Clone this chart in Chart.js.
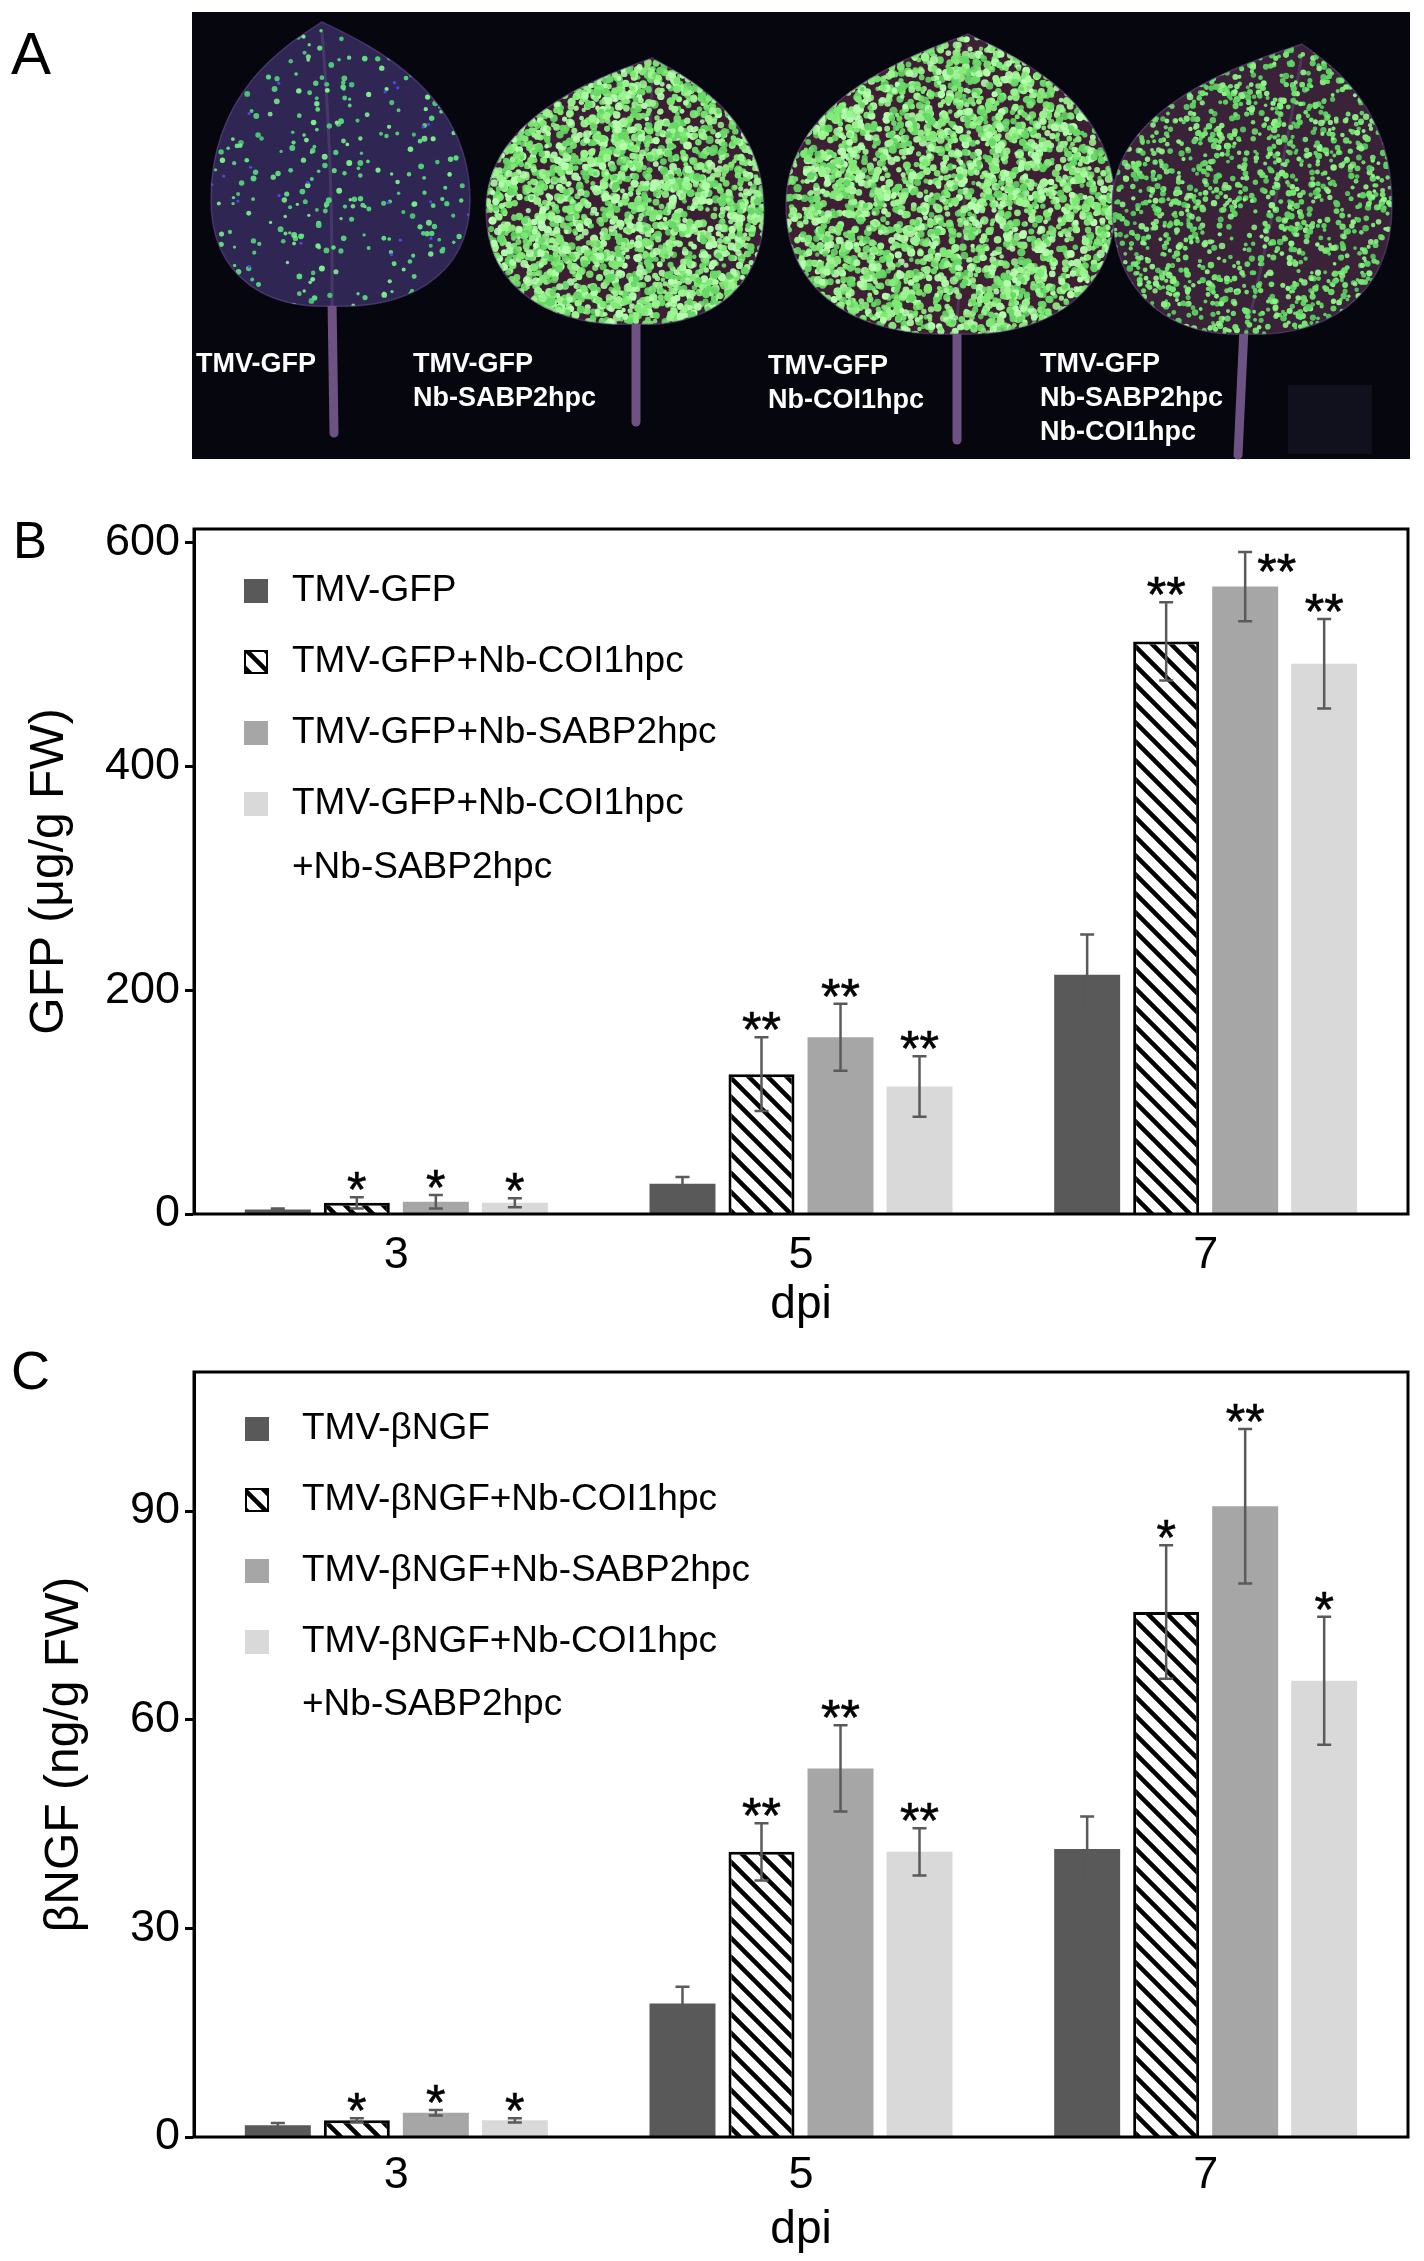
<!DOCTYPE html>
<html><head><meta charset="utf-8">
<script src="https://cdn.jsdelivr.net/npm/chart.js@4.4.1/dist/chart.umd.min.js"></script>
<style>
html,body{margin:0;padding:0;background:#fff;}
body{width:1424px;height:2261px;position:relative;overflow:hidden;font-family:"Liberation Sans",Arial,sans-serif;}
.abs{position:absolute;}
.panel{position:absolute;line-height:1;color:#000;font-family:"Liberation Sans",Arial,sans-serif;}
.plabel{position:absolute;color:#fff;font-weight:bold;font-size:27px;line-height:34px;white-space:nowrap;font-family:"Liberation Sans",Arial,sans-serif;}
</style></head><body>
<canvas id="photo" class="abs" width="1424" height="470" style="left:0;top:0;width:1424px;height:470px"></canvas>
<div class="plabel" style="left:196px;top:346px">TMV-GFP</div>
<div class="plabel" style="left:413px;top:346px">TMV-GFP<br>Nb-SABP2hpc</div>
<div class="plabel" style="left:768px;top:348px">TMV-GFP<br>Nb-COI1hpc</div>
<div class="plabel" style="left:1040px;top:346px">TMV-GFP<br>Nb-SABP2hpc<br>Nb-COI1hpc</div>
<div class="panel" style="left:11px;top:24px;font-size:60px">A</div>
<div id="wB" class="abs" style="left:0;top:480px;width:1424px;height:860px"><canvas id="chartB"></canvas></div>
<div id="wC" class="abs" style="left:0;top:1340px;width:1424px;height:921px"><canvas id="chartC"></canvas></div>
<div class="panel" style="left:13px;top:515px;font-size:51px">B</div>
<div class="panel" style="left:11px;top:1343px;font-size:54px">C</div>
<script>
// ---------------- DATA ----------------
const categories = ['3', '5', '7'];
const xTitle = 'dpi';

// Panel B: GFP (µg/g FW)
const gfpTitle = 'GFP (μg/g FW)';
const gfpTicks = [0, 200, 400, 600];
const gfpLegend = ['TMV-GFP', 'TMV-GFP+Nb-COI1hpc', 'TMV-GFP+Nb-SABP2hpc', ['TMV-GFP+Nb-COI1hpc', '+Nb-SABP2hpc']];
const gfpTMV      = [4, 27, 214];
const gfpTMVErr   = [1, 6, 36];
const gfpCOI      = [10, 125, 512];
const gfpCOIErr   = [5, 33, 35];
const gfpSABP     = [11, 158, 561];
const gfpSABPErr  = [6, 30, 31];
const gfpBoth     = [10, 114, 492];
const gfpBothErr  = [4, 27, 40];
const gfpSigTMV   = ['', '', ''];
const gfpSigCOI   = ['*', '**', '**'];
const gfpSigSABP  = ['*', '**', '**'];
const gfpSigBoth  = ['*', '**', '**'];

// Panel C: βNGF (ng/g FW)
const ngfTitle = 'βNGF (ng/g FW)';
const ngfTicks = [0, 30, 60, 90];
const ngfLegend = ['TMV-βNGF', 'TMV-βNGF+Nb-COI1hpc', 'TMV-βNGF+Nb-SABP2hpc', ['TMV-βNGF+Nb-COI1hpc', '+Nb-SABP2hpc']];
const ngfTMV      = [1.7, 19.2, 41.4];
const ngfTMVErr   = [0.3, 2.4, 4.7];
const ngfCOI      = [2.4, 41.0, 75.5];
const ngfCOIErr   = [0.3, 4.1, 9.6];
const ngfSABP     = [3.5, 53.0, 90.7];
const ngfSABPErr  = [0.4, 6.2, 11.1];
const ngfBoth     = [2.4, 41.0, 65.6];
const ngfBothErr  = [0.3, 3.4, 9.2];
const ngfSigTMV   = ['', '', ''];
const ngfSigCOI   = ['*', '**', '*'];
const ngfSigSABP  = ['*', '**', '**'];
const ngfSigBoth  = ['*', '**', '*'];

// ---------------- STYLE ----------------
const FONT = '"Liberation Sans", Arial, sans-serif';
const cDark = '#595959', cMid = '#a6a6a6', cLight = '#d9d9d9';

function makeHatch() {
  const s = 19, c = document.createElement('canvas');
  c.width = s; c.height = s;
  const g = c.getContext('2d');
  g.fillStyle = '#fff'; g.fillRect(0, 0, s, s);
  g.strokeStyle = '#000'; g.lineWidth = 4.5;
  g.beginPath();
  for (const k of [-1, 0, 1]) { g.moveTo(k * s - 3, -3); g.lineTo(k * s + s + 3, s + 3); }
  g.stroke();
  return g.createPattern(c, 'repeat');
}
const hatch = makeHatch();

const overlay = {
  id: 'overlay',
  afterDatasetsDraw(chart, args, o) {
    const ctx = chart.ctx, ys = chart.scales.y, ca = chart.chartArea;
    // error bars + significance marks
    chart.data.datasets.forEach((ds, di) => {
      const meta = chart.getDatasetMeta(di);
      meta.data.forEach((bar, i) => {
        const v = ds.data[i], e = ds.errors[i], x = bar.x;
        const yT = ys.getPixelForValue(v + e), yB = ys.getPixelForValue(Math.max(0, v - e));
        ctx.save();
        ctx.strokeStyle = '#5a5a5a'; ctx.lineWidth = 2.5;
        ctx.beginPath();
        ctx.moveTo(x, yT); ctx.lineTo(x, yB);
        ctx.moveTo(x - 7, yT); ctx.lineTo(x + 7, yT);
        ctx.moveTo(x - 7, yB); ctx.lineTo(x + 7, yB);
        ctx.stroke();
        const s = ds.sig[i];
        if (s) {
          ctx.font = '50px ' + FONT; ctx.fillStyle = '#000'; ctx.strokeStyle = '#000'; ctx.lineWidth = 0.6;
          ctx.textBaseline = 'alphabetic';
          let bx = x, by = yT + 10; ctx.textAlign = 'center';
          if (yT - 26 < ca.top + 4) { bx = x + 12; by = yT + 37; ctx.textAlign = 'left'; }
          ctx.fillText(s, bx, by); ctx.strokeText(s, bx, by);
        }
        ctx.restore();
      });
    });
    // frame
    ctx.save();
    ctx.strokeStyle = '#000'; ctx.lineWidth = 3;
    ctx.strokeRect(ca.left, ca.top, ca.right - ca.left, ca.bottom - ca.top);
    ctx.restore();
    // legend
    const L = o.legend;
    ctx.save();
    ctx.font = '37px ' + FONT; ctx.fillStyle = '#000'; ctx.textBaseline = 'middle'; ctx.textAlign = 'left';
    chart.data.datasets.forEach((ds, di) => {
      const cy = ca.top + L.first + di * L.step;
      ctx.fillStyle = ds.backgroundColor;
      ctx.fillRect(L.sx, cy - 12, 24, 24);
      if (ds.borderWidth) { ctx.strokeStyle = '#000'; ctx.lineWidth = 2; ctx.strokeRect(L.sx + 1, cy - 11, 22, 22); }
      ctx.fillStyle = '#000';
      [].concat(ds.legendText).forEach((t, k) => ctx.fillText(t, L.tx, cy + k * L.wrap));
    });
    ctx.restore();
  }
};

function ds(label, data, err, sig, color, hatched) {
  return {
    label: Array.isArray(label) ? label.join(' ') : label, legendText: label,
    data: data, errors: err, sig: sig,
    backgroundColor: color,
    borderColor: '#000', borderWidth: hatched ? 3 : 0,
    categoryPercentage: 0.781, barPercentage: 0.835
  };
}

function makeChart(id, datasets, ticks, yMax, yTitle, pad, xAxisH, tickPad, titlePadX, titlePadY, legend) {
  return new Chart(document.getElementById(id), {
    type: 'bar',
    data: { labels: categories, datasets: datasets },
    options: {
      responsive: true, maintainAspectRatio: false, animation: false,
      layout: { padding: pad },
      plugins: { legend: { display: false }, tooltip: { enabled: false }, overlay: { legend: legend } },
      scales: {
        x: {
          grid: { display: false, drawTicks: false }, border: { display: false },
          ticks: { color: '#000', font: { family: FONT, size: 45 }, padding: tickPad },
          title: { display: true, text: xTitle, color: '#000', font: { family: FONT, size: 46 }, padding: { top: 0, bottom: titlePadX } },
          afterFit(s) { s.height = xAxisH; }
        },
        y: {
          min: 0, max: yMax,
          afterBuildTicks(s) { s.ticks = ticks.map(v => ({ value: v })); },
          grid: { display: true, drawOnChartArea: false, drawTicks: true, tickLength: 9, tickWidth: 3, tickColor: '#000' },
          border: { display: true, color: '#000', width: 3 },
          ticks: { color: '#000', font: { family: FONT, size: 45 }, padding: 5 },
          title: { display: true, text: yTitle, color: '#000', font: { family: FONT, size: 48 }, padding: { top: titlePadY, bottom: 0 } },
          afterFit(s) { s.width = 194; }
        }
      }
    },
    plugins: [overlay]
  });
}

makeChart('chartB', [
  ds(gfpLegend[0], gfpTMV, gfpTMVErr, gfpSigTMV, cDark, false),
  ds(gfpLegend[1], gfpCOI, gfpCOIErr, gfpSigCOI, hatch, true),
  ds(gfpLegend[2], gfpSABP, gfpSABPErr, gfpSigSABP, cMid, false),
  ds(gfpLegend[3], gfpBoth, gfpBothErr, gfpSigBoth, cLight, false)
], gfpTicks, 612.5, gfpTitle, { top: 49, right: 16, bottom: 0, left: 0 }, 126, 15, 7, 21,
  { first: 62, step: 71, wrap: 64, sx: 244, tx: 292 });

makeChart('chartC', [
  ds(ngfLegend[0], ngfTMV, ngfTMVErr, ngfSigTMV, cDark, false),
  ds(ngfLegend[1], ngfCOI, ngfCOIErr, ngfSigCOI, hatch, true),
  ds(ngfLegend[2], ngfSABP, ngfSABPErr, ngfSigSABP, cMid, false),
  ds(ngfLegend[3], ngfBoth, ngfBothErr, ngfSigBoth, cLight, false)
], ngfTicks, 110, ngfTitle, { top: 16, right: 16, bottom: 0, left: 0 }, 124, 12, 3, 36,
  { first: 57, step: 71, wrap: 63, sx: 245, tx: 302 });

// ---------------- PHOTO (panel A, drawn illustration) ----------------
(function drawPhoto() {
  const g = document.getElementById('photo').getContext('2d');
  let seed = 20240607;
  function speckle() { seed = (seed + 0x6D2B79F5) | 0; let t = Math.imul(seed ^ (seed >>> 15), 1 | seed); t = (t + Math.imul(t ^ (t >>> 7), 61 | t)) ^ t; return ((t ^ (t >>> 14)) >>> 0) / 4294967296; }
  g.fillStyle = '#06060f'; g.fillRect(192, 12, 1218, 447);
  g.fillStyle = '#11111e'; g.fillRect(1288, 385, 84, 69);
  const leaves = [
    { tip: [322, 22], base: [332, 306], left: 211, right: 470, wy: 200, pet: [[332, 300], [334, 433]], col: '#2f2653', n: 330, r: [1.6, 3.0], greens: ['#5ee07e', '#7cf08c', '#4fd07a'], density: 'sparse' },
    { tip: [652, 58], base: [636, 324], left: 486, right: 764, wy: 210, pet: [[636, 318], [636, 422]], col: '#3c1f34', n: 2900, r: [2.2, 4.2], greens: ['#7eea74', '#9cf590', '#66d866', '#b5ffae'] },
    { tip: [968, 34], base: [956, 334], left: 786, right: 1115, wy: 205, pet: [[957, 328], [957, 440]], col: '#3e1f33', n: 3500, r: [2.2, 4.2], greens: ['#7eea74', '#9cf590', '#66d866', '#b5ffae'] },
    { tip: [1302, 44], base: [1246, 334], left: 1112, right: 1392, wy: 205, pet: [[1244, 328], [1238, 455]], col: '#3a2238', n: 1600, r: [1.8, 3.3], greens: ['#72e870', '#90f388', '#5cd462'] }
  ];
  function leafPath(L) {
    const [tx, ty] = L.tip, [bx, by] = L.base, l = L.left, r = L.right, wy = L.wy;
    g.beginPath();
    g.moveTo(tx, ty);
    g.bezierCurveTo(tx + (r - tx) * 0.3, ty + (wy - ty) * 0.12, r, wy - (wy - ty) * 0.62, r, wy);
    g.bezierCurveTo(r, wy + (by - wy) * 0.75, bx + (r - bx) * 0.5, by + 4, bx, by);
    g.bezierCurveTo(bx - (bx - l) * 0.5, by + 4, l, wy + (by - wy) * 0.75, l, wy);
    g.bezierCurveTo(l, wy - (wy - ty) * 0.62, tx - (tx - l) * 0.3, ty + (wy - ty) * 0.12, tx, ty);
    g.closePath();
  }
  leaves.forEach(L => {
    g.save();
    g.strokeStyle = '#6e5283'; g.lineWidth = 9; g.lineCap = 'round';
    g.beginPath(); g.moveTo(L.pet[0][0], L.pet[0][1]); g.lineTo(L.pet[1][0], L.pet[1][1]); g.stroke();
    g.restore();
    g.save();
    leafPath(L);
    g.fillStyle = L.col; g.fill();
    g.clip();
    g.strokeStyle = 'rgba(120,90,150,0.35)'; g.lineWidth = 3;
    g.beginPath(); g.moveTo(L.tip[0], L.tip[1] + 10); g.quadraticCurveTo((L.tip[0] + L.base[0]) / 2 + 6, (L.tip[1] + L.base[1]) / 2, L.base[0], L.base[1]); g.stroke();
    const w = L.right - L.left, h = L.base[1] - L.tip[1];
    for (let k = 0; k < L.n; k++) {
      const x = L.left + speckle() * w, y = L.tip[1] + speckle() * h;
      const rr = L.r[0] + speckle() * (L.r[1] - L.r[0]);
      g.fillStyle = L.greens[Math.floor(speckle() * L.greens.length)];
      g.globalAlpha = 0.85 + speckle() * 0.15;
      g.beginPath(); g.arc(x, y, rr, 0, Math.PI * 2); g.fill();
    }
    g.globalAlpha = 1;
    if (L.density === 'sparse') {
      g.fillStyle = '#4a4ae8';
      for (let k = 0; k < 25; k++) { g.beginPath(); g.arc(L.left + speckle() * w, L.tip[1] + speckle() * h, 1.6, 0, Math.PI * 2); g.fill(); }
    }
    g.restore();
    g.save(); leafPath(L); g.strokeStyle = 'rgba(110,80,150,0.5)'; g.lineWidth = 1.5; g.stroke(); g.restore();
  });
})();
</script>
</body></html>
